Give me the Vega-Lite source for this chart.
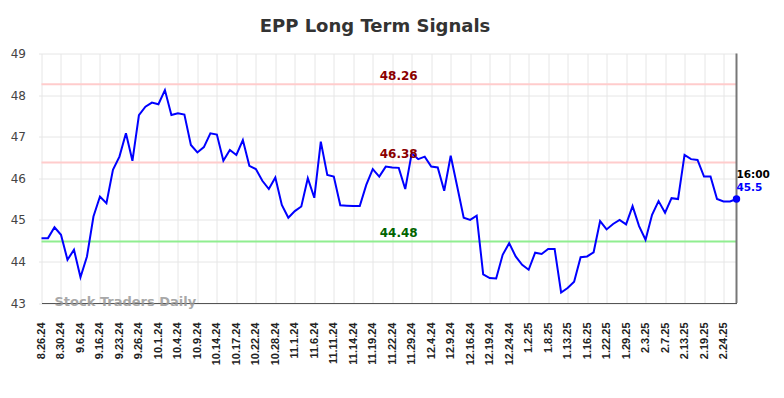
{
  "$schema": "https://vega.github.io/schema/vega-lite/v6.json",
  "width": 695,
  "height": 249.5,
  "autosize": {"type": "none"},
  "padding": {"left": 41.5, "top": 53.5, "right": 47.5, "bottom": 95},
  "background": "white",
  "title": {"text": "EPP Long Term Signals", "fontSize": 18, "fontWeight": "bold", "font": "DejaVu Sans", "color": "#333333", "anchor": "middle", "dx": -14, "offset": 12},
  "config": {"view": {"stroke": null}, "font": "DejaVu Sans", "axisX": {"labelOverlap": false, "labelSeparation": 0, "labelFlush": false, "tickCount": 50}},
  "data": {"values": [
    {"i":0,"v":44.56},{"i":1,"v":44.56},{"i":2,"v":44.82},{"i":3,"v":44.64},{"i":4,"v":44.04},{"i":5,"v":44.28},{"i":6,"v":43.62},{"i":7,"v":44.12},{"i":8,"v":45.08},{"i":9,"v":45.56},
    {"i":10,"v":45.40},{"i":11,"v":46.20},{"i":12,"v":46.52},{"i":13,"v":47.08},{"i":14,"v":46.42},{"i":15,"v":47.52},{"i":16,"v":47.72},{"i":17,"v":47.82},{"i":18,"v":47.78},{"i":19,"v":48.12},
    {"i":20,"v":47.52},{"i":21,"v":47.56},{"i":22,"v":47.53},{"i":23,"v":46.80},{"i":24,"v":46.62},{"i":25,"v":46.75},{"i":26,"v":47.08},{"i":27,"v":47.05},{"i":28,"v":46.42},{"i":29,"v":46.68},
    {"i":30,"v":46.56},{"i":31,"v":46.92},{"i":32,"v":46.30},{"i":33,"v":46.22},{"i":34,"v":45.94},{"i":35,"v":45.74},{"i":36,"v":46.02},{"i":37,"v":45.36},{"i":38,"v":45.05},{"i":39,"v":45.21},
    {"i":40,"v":45.32},{"i":41,"v":46.00},{"i":42,"v":45.53},{"i":43,"v":46.88},{"i":44,"v":46.08},{"i":45,"v":46.04},{"i":46,"v":45.35},{"i":47,"v":45.34},{"i":48,"v":45.33},{"i":49,"v":45.33},
    {"i":50,"v":45.84},{"i":51,"v":46.22},{"i":52,"v":46.04},{"i":53,"v":46.28},{"i":54,"v":46.26},{"i":55,"v":46.25},{"i":56,"v":45.74},{"i":57,"v":46.60},{"i":58,"v":46.46},{"i":59,"v":46.52},
    {"i":60,"v":46.28},{"i":61,"v":46.26},{"i":62,"v":45.70},{"i":63,"v":46.54},{"i":64,"v":45.80},{"i":65,"v":45.05},{"i":66,"v":45.00},{"i":67,"v":45.10},{"i":68,"v":43.69},{"i":69,"v":43.60},
    {"i":70,"v":43.59},{"i":71,"v":44.16},{"i":72,"v":44.44},{"i":73,"v":44.12},{"i":74,"v":43.92},{"i":75,"v":43.80},{"i":76,"v":44.21},{"i":77,"v":44.18},{"i":78,"v":44.30},{"i":79,"v":44.30},
    {"i":80,"v":43.25},{"i":81,"v":43.36},{"i":82,"v":43.51},{"i":83,"v":44.10},{"i":84,"v":44.12},{"i":85,"v":44.22},{"i":86,"v":44.97},{"i":87,"v":44.77},{"i":88,"v":44.90},{"i":89,"v":45.00},
    {"i":90,"v":44.89},{"i":91,"v":45.33},{"i":92,"v":44.85},{"i":93,"v":44.52},{"i":94,"v":45.12},{"i":95,"v":45.45},{"i":96,"v":45.17},{"i":97,"v":45.52},{"i":98,"v":45.50},{"i":99,"v":46.56},
    {"i":100,"v":46.46},{"i":101,"v":46.44},{"i":102,"v":46.04},{"i":103,"v":46.04},{"i":104,"v":45.50},{"i":105,"v":45.44},{"i":106,"v":45.44},{"i":107,"v":45.50}
  ]},
  "layer": [
    {
      "data": {"values": [{"level": 48.26}, {"level": 46.38}]},
      "mark": {"type": "rule", "color": "#ffcccc", "strokeWidth": 2},
      "encoding": {"y": {"field": "level", "type": "quantitative"}}
    },
    {
      "data": {"values": [{"level": 44.48}]},
      "mark": {"type": "rule", "color": "#90ee90", "strokeWidth": 2},
      "encoding": {"y": {"field": "level", "type": "quantitative"}}
    },
    {
      "mark": {"type": "line", "color": "#0000ff", "strokeWidth": 2},
      "encoding": {
        "x": {"field": "i", "type": "quantitative", "scale": {"domain": [0, 107], "nice": false, "zero": false},
          "axis": {"title": null, "values": [0,3,6,9,12,15,18,21,24,27,30,33,36,39,42,45,48,51,54,57,60,63,66,69,72,75,78,81,84,87,90,93,96,99,102,105],
            "labelExpr": "['8.26.24','8.30.24','9.6.24','9.16.24','9.23.24','9.26.24','10.1.24','10.4.24','10.9.24','10.14.24','10.17.24','10.22.24','10.28.24','11.1.24','11.6.24','11.11.24','11.14.24','11.19.24','11.22.24','11.29.24','12.4.24','12.9.24','12.16.24','12.19.24','12.24.24','1.2.25','1.8.25','1.13.25','1.16.25','1.22.25','1.29.25','2.3.25','2.7.25','2.13.25','2.19.25','2.24.25'][round(datum.value/3)]",
            "tickCount": 50,
            "labelAngle": -90, "labelFont": "Liberation Sans", "labelFontSize": 11, "labelFontWeight": "bold", "labelColor": "#222222", "labelPadding": 19, "ticks": false, "tickSize": 0,
            "domainColor": "#555555", "gridColor": "#e6e6e6", "labelOverlap": false, "labelSeparation": 0, "labelFlush": false}},
        "y": {"field": "v", "type": "quantitative", "scale": {"domain": [43, 49], "nice": false, "zero": false},
          "axis": {"title": null, "values": [43,44,45,46,47,48,49], "format": "d", "labelFontSize": 12, "labelColor": "#444444", "tickSize": 3, "tickColor": "#e6e6e6", "domain": false, "gridColor": "#e6e6e6", "labelPadding": 13}}
      }
    },
    {
      "transform": [{"filter": "datum.i == 107"}],
      "mark": {"type": "rule", "color": "#777777", "strokeWidth": 2},
      "encoding": {"x": {"field": "i", "type": "quantitative"}}
    },
    {
      "transform": [{"filter": "datum.i == 107"}],
      "mark": {"type": "point", "filled": true, "color": "#0000ff", "size": 55, "opacity": 1},
      "encoding": {"x": {"field": "i", "type": "quantitative"}, "y": {"field": "v", "type": "quantitative"}}
    },
    {
      "transform": [{"filter": "datum.i == 107"}],
      "mark": {"type": "text", "text": "16:00", "align": "left", "baseline": "middle", "dy": -24, "fontSize": 10.5, "fontWeight": "bold", "color": "#000000"},
      "encoding": {"x": {"field": "i", "type": "quantitative"}, "y": {"field": "v", "type": "quantitative"}}
    },
    {
      "transform": [{"filter": "datum.i == 107"}],
      "mark": {"type": "text", "align": "left", "baseline": "middle", "dy": -11, "fontSize": 10.5, "fontWeight": "bold", "color": "#0000ff"},
      "encoding": {"x": {"field": "i", "type": "quantitative"}, "y": {"field": "v", "type": "quantitative"}, "text": {"field": "v", "type": "quantitative", "format": ".1f"}}
    },
    {
      "data": {"values": [{"level": 48.26}, {"level": 46.38}]},
      "mark": {"type": "text", "fontSize": 12, "fontWeight": "bold", "color": "#8b0000", "baseline": "alphabetic", "dy": -4},
      "encoding": {"x": {"datum": 55}, "y": {"field": "level", "type": "quantitative"}, "text": {"field": "level", "type": "quantitative", "format": ".2f"}}
    },
    {
      "data": {"values": [{"level": 44.48}]},
      "mark": {"type": "text", "fontSize": 12, "fontWeight": "bold", "color": "#006400", "baseline": "alphabetic", "dy": -4},
      "encoding": {"x": {"datum": 55}, "y": {"field": "level", "type": "quantitative"}, "text": {"field": "level", "type": "quantitative", "format": ".2f"}}
    },
    {
      "data": {"values": [{"label": "Stock Traders Daily"}]},
      "mark": {"type": "text", "fontSize": 13, "fontWeight": "bold", "color": "#999999", "opacity": 0.85, "align": "left", "baseline": "middle", "dy": -1},
      "encoding": {"x": {"datum": 2}, "y": {"datum": 43}, "text": {"field": "label"}}
    }
  ]
}
